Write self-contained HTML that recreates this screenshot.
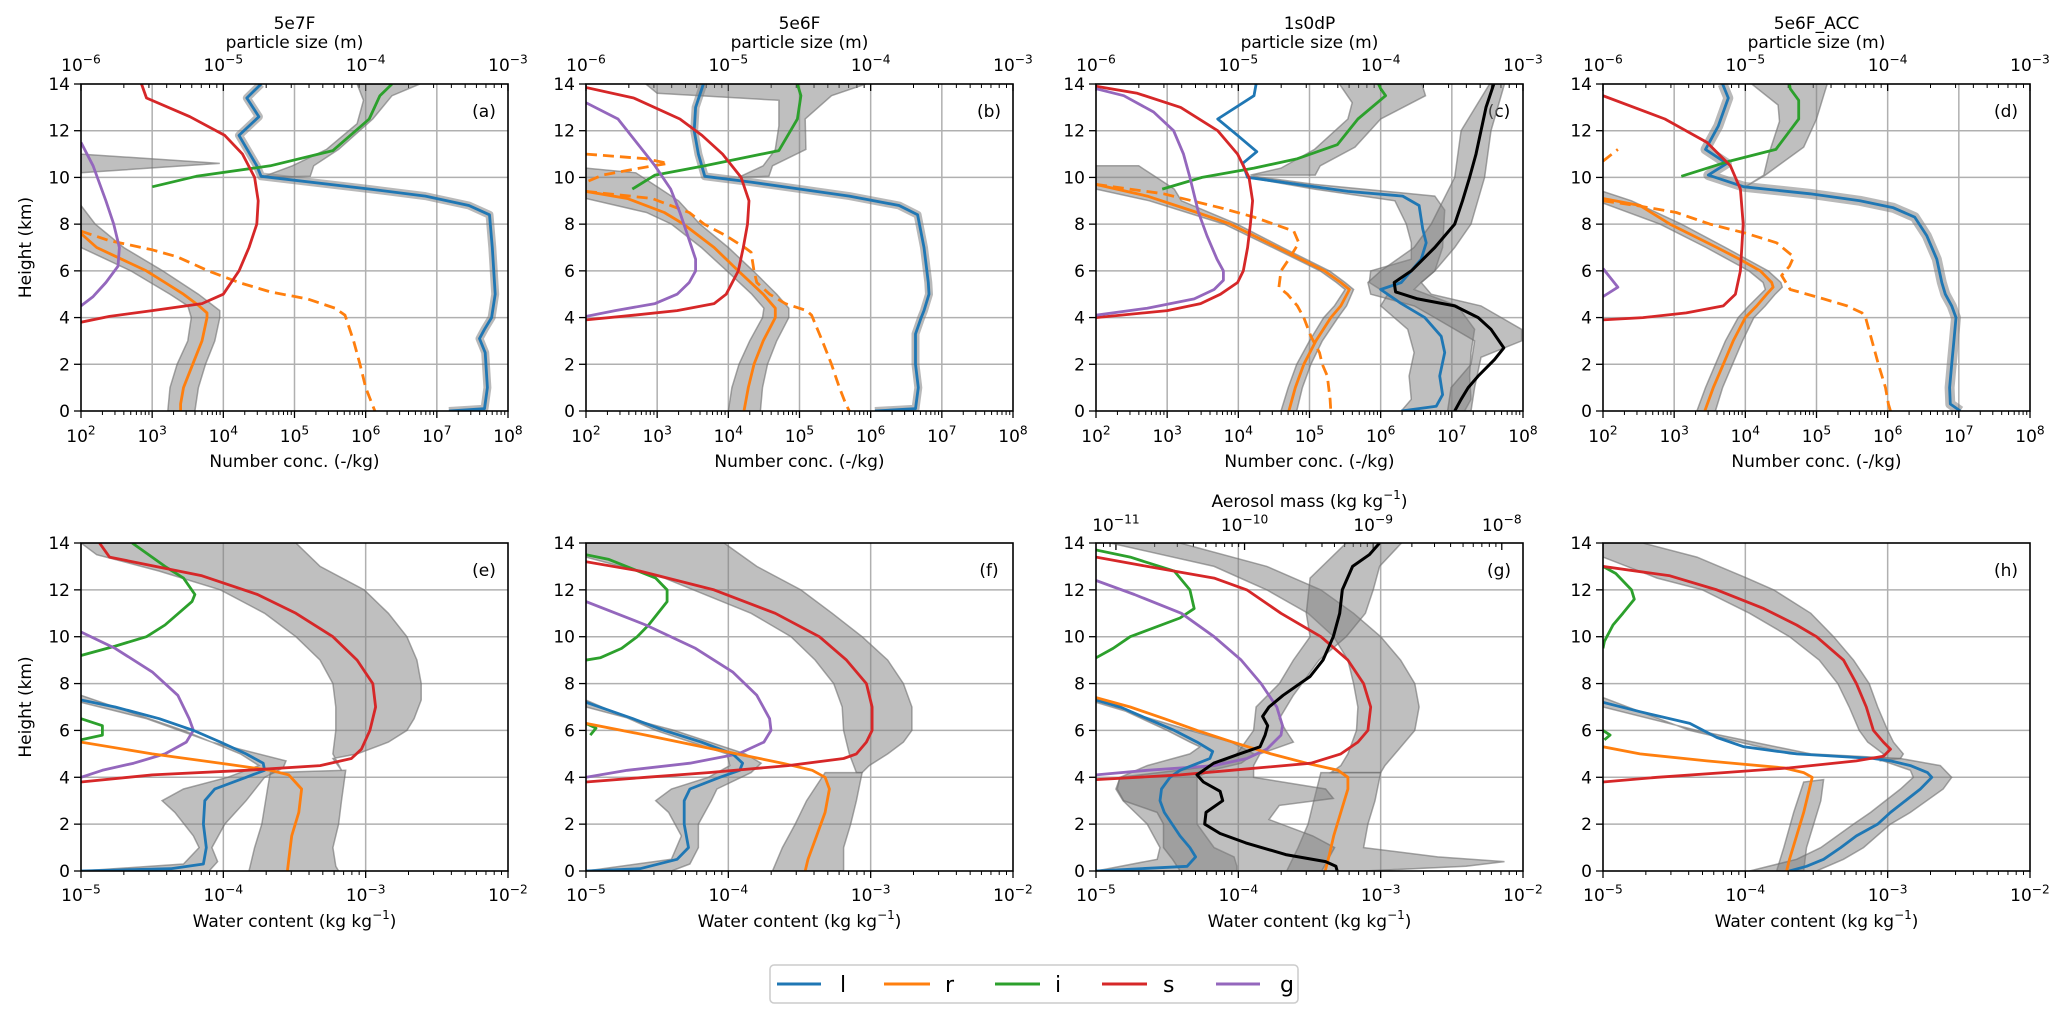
<!DOCTYPE html>
<html><head><meta charset="utf-8"><style>
html,body{margin:0;padding:0;background:#fff;}
svg{display:block;font-family:"DejaVu Sans","Liberation Sans",sans-serif;}
</style></head><body>
<svg id="chart" width="2067" height="1022" viewBox="0 0 2067 1022" xmlns="http://www.w3.org/2000/svg">
<rect x="0" y="0" width="2067" height="1022" fill="#fff"/>
<g id="legend">
<rect x="770" y="965" width="528" height="38" rx="4" fill="#fff" stroke="#cccccc" stroke-width="1.5"/>
<g><line x1="777" y1="984" x2="821" y2="984" stroke="#1f77b4" stroke-width="3"/><text x="840" y="992" font-size="22">l</text></g>
<g><line x1="884" y1="984" x2="930" y2="984" stroke="#ff7f0e" stroke-width="3"/><text x="945" y="992" font-size="22">r</text></g>
<g><line x1="995" y1="984" x2="1040" y2="984" stroke="#2ca02c" stroke-width="3"/><text x="1055" y="992" font-size="22">i</text></g>
<g><line x1="1102" y1="984" x2="1147" y2="984" stroke="#d62728" stroke-width="3"/><text x="1163" y="992" font-size="22">s</text></g>
<g><line x1="1216" y1="984" x2="1260" y2="984" stroke="#9467bd" stroke-width="3"/><text x="1280" y="992" font-size="22">g</text></g>
</g>
</svg>
<script>
// ---------- data (log10 values; heights in km) ----------
// panel a
const a_l_h=[14,13.4,12.6,11.8,10.5,10.05,9.5,9.2,8.8,8.4,7,5,4,3.5,3.1,2.5,1,0.1,0];
const a_l_v=[4.53,4.33,4.5,4.22,4.47,4.53,6.06,6.84,7.45,7.74,7.78,7.82,7.77,7.67,7.6,7.68,7.71,7.67,7.17];
const a_i_h=[9.6,10.05,10.5,11.15,12.5,13.5,14];
const a_i_v=[3.0,3.62,4.66,5.54,6.05,6.2,6.37];
const a_ib_lo_h=[10,10.5,11.2,12.3,13.3,14];
const a_ib_lo_v=[4.53,4.97,5.45,5.88,5.97,5.88];
const a_ib_hi_h=[10.05,10.5,11.2,12.5,13.5,14];
const a_ib_hi_v=[5.22,5.27,5.62,6.1,6.37,6.76];
const a_s_h=[14,13.4,12.6,11.8,11,10,9,8,7,6,5,4.6,4.3,4.05,3.8];
const a_s_v=[2.85,2.92,3.53,4.02,4.27,4.44,4.49,4.47,4.36,4.22,4.0,3.7,3.0,2.4,2.0];
const a_g_h=[11.5,10.5,9,8,7,6.2,5.5,4.9,4.5];
const a_g_v=[2.0,2.17,2.35,2.46,2.54,2.52,2.35,2.17,2.0];
const a_r_h=[7.6,7,6.5,6,5.5,5,4.5,4.2,4,3,2,1,0.3,0];
const a_r_v=[2.0,2.22,2.57,2.92,3.18,3.44,3.66,3.77,3.77,3.7,3.57,3.44,3.4,3.4];
const a_rb_lo_h=[7.0,6,5,4.5,4,3,2,1,0];
const a_rb_lo_v=[2.0,2.7,3.25,3.5,3.55,3.5,3.35,3.25,3.22];
const a_rb_hi_h=[8.8,8,7,6,5,4.3,4,3,2,1,0];
const a_rb_hi_v=[2.0,2.2,2.6,3.15,3.65,3.95,3.95,3.88,3.75,3.65,3.6];
const a_rd_h=[7.7,7.3,6.9,6.6,6,5.5,5.1,4.8,4.4,4.1,3,2,1,0.3,0];
const a_rd_v=[2.0,2.39,3.0,3.35,3.79,4.22,4.66,5.18,5.57,5.71,5.83,5.92,6.0,6.09,6.13];
const a_sp_lo_h=[10.2,10.6];
const a_sp_lo_v=[2.0,3.95];
const a_sp_hi_h=[11.0];
const a_sp_hi_v=[2.0];
// panel b
const b_l_h=[14,13,12,11,10.05,9.8,9.5,9.2,8.8,8.4,7,5.5,5,4.3,4,3.3,2,1,0.1,0];
const b_l_v=[3.65,3.54,3.52,3.58,3.67,4.32,5.01,5.7,6.4,6.66,6.75,6.81,6.82,6.75,6.71,6.63,6.63,6.67,6.63,6.06];
const b_i_h=[9.5,10.1,10.5,11.15,12.5,13.5,14];
const b_i_v=[2.65,2.97,3.67,4.71,4.97,5.02,4.97];
const b_ib_lo_h=[10,10.5,11.2,12.2,13.3,13.6,14];
const b_ib_lo_v=[4.14,4.49,4.66,4.71,4.71,3.0,2.84];
const b_ib_hi_h=[10.05,10.5,11.2,12.5,13.5,14];
const b_ib_hi_v=[4.57,4.62,5.09,5.08,5.45,5.93];
const b_s_h=[13.85,13.4,12.5,11.8,11,10,9,8,7,6,5,4.6,4.3,4.1,3.9];
const b_s_v=[2.0,2.67,3.32,3.63,3.92,4.18,4.29,4.27,4.21,4.14,3.97,3.8,3.28,2.67,2.0];
const b_g_h=[13.2,12.5,11.5,10.5,9.5,8.5,7.5,6.5,6,5.5,5,4.6,4.3,4.05];
const b_g_v=[2.0,2.45,2.71,2.97,3.19,3.32,3.43,3.54,3.54,3.45,3.28,2.97,2.41,2.0];
const b_r_h=[9.4,9.1,8.5,8,7,6,5,4.4,4,3,2,1,0];
const b_r_v=[2.0,2.58,3.1,3.37,3.8,4.14,4.49,4.66,4.66,4.49,4.36,4.28,4.22];
const b_rb_lo_h=[9.1,8.5,8,7,6,5,4.4,4,3,2,1,0];
const b_rb_lo_v=[2.0,2.85,3.2,3.62,3.98,4.33,4.5,4.48,4.3,4.15,4.05,4.0];
const b_rb_hi_h=[10.4,10.2,9.6,9,8,7,6,5,4.4,4,3,2,1,0];
const b_rb_hi_v=[2.0,2.7,3.0,3.3,3.6,4.0,4.35,4.68,4.85,4.85,4.68,4.55,4.48,4.45];
const b_rd_h=[9.4,9.1,8.5,8,7.5,7,6.8,6,5.5,5,4.6,4.3,4.1,3,2,1,0.3,0];
const b_rd_v=[2.0,2.93,3.45,3.66,3.97,4.23,4.32,4.36,4.4,4.58,4.8,5.1,5.17,5.32,5.45,5.56,5.65,5.7];
const b_rd2_h=[11,10.8,10.6,10.4,10.1,9.8];
const b_rd2_v=[2.0,2.84,3.15,2.76,2.23,2.0];
// panel c
const c_l_h=[14,13.5,12.5,11.8,11.1,10.6,10,9.4,9.2,8.8,7.8,7.2,6.5,5.5,5.2,4.6,4,3.2,2.5,1.5,0.7,0.2,0];
const c_l_v=[4.25,4.22,3.71,3.99,4.26,4.06,4.13,5.54,6.31,6.54,6.59,6.64,6.57,6.29,6.0,6.29,6.62,6.85,6.9,6.83,6.87,6.78,6.29];
const c_lb_lo_h=[10,9.5,9,8,7.2,6.5,6,5.5,5,4.5,3.5,2.5,1.5,0.5,0];
const c_lb_lo_v=[4.13,5.07,6.2,6.36,6.43,6.43,5.86,5.84,6.1,6.0,6.38,6.47,6.4,6.43,6.29];
const c_lb_hi_h=[10.05,9.7,9.2,8.6,7,6,5.5,5.2,4.5,3.5,2.5,1.5,0.5,0];
const c_lb_hi_v=[4.22,5.07,6.76,6.9,6.87,6.76,6.57,6.47,7.08,7.32,7.27,7.25,7.27,7.18];
const c_k_h=[14,13,12,11,10,9,8,7,6,5.5,5.1,4.8,4.5,4,3.5,2.7,2.2,1.5,1,0.5,0];
const c_k_v=[7.59,7.48,7.41,7.34,7.25,7.15,7.04,6.76,6.43,6.19,6.21,6.52,7.04,7.37,7.55,7.73,7.6,7.37,7.23,7.13,7.04];
const c_kb_lo_h=[14,12,10,8,7,6,5.5,5,4.5,4,3,2,1,0];
const c_kb_lo_v=[7.53,7.13,7.04,6.71,6.47,6.0,5.82,5.86,6.47,6.76,7.32,7.27,6.99,6.94];
const c_kb_hi_h=[14,12,10,8,7,6,5.5,5,4.5,3.5,3,2.3,1,0];
const c_kb_hi_v=[7.74,7.55,7.46,7.27,7.04,6.76,6.57,6.71,7.41,7.98,7.98,7.41,7.32,7.27];
const c_i_h=[9.5,10,10.4,10.8,11.4,12.5,13.5,13.8,14];
const c_i_v=[2.93,3.49,4.22,4.83,5.39,5.68,6.07,6.0,5.97];
const c_ib_lo_h=[10.1,10.4,11.2,12.5,13.2,14];
const c_ib_lo_v=[4.17,4.6,5.07,5.54,5.6,5.42];
const c_ib_hi_h=[10.1,10.5,11.3,12.5,13.5,14];
const c_ib_hi_v=[5.08,5.15,5.64,6.0,6.63,6.58];
const c_s_h=[13.9,13.6,13,12,11,10,9,8,7,6,5.5,5,4.6,4.3,4];
const c_s_v=[2.0,2.58,3.19,3.71,3.99,4.15,4.2,4.17,4.13,4.07,3.99,3.75,3.47,3.0,2.0];
const c_g_h=[13.8,13.5,12.8,12,11,10,8.5,7.5,6.5,6,5.6,5.2,4.8,4.4,4.1];
const c_g_v=[2.0,2.39,2.81,3.09,3.23,3.32,3.44,3.56,3.7,3.79,3.79,3.66,3.38,2.72,2.0];
const c_r_h=[9.7,9.2,8.5,8,7,6.5,6,5.5,5.2,4.5,4,3,2,1,0];
const c_r_v=[2.0,2.72,3.42,3.89,4.55,4.88,5.21,5.44,5.56,5.44,5.3,5.09,4.92,4.8,4.71];
const c_rb_lo_h=[9.5,9,8,7,6,5.5,5.2,4.5,4,3,2,1,0];
const c_rb_lo_v=[2.0,2.75,3.8,4.48,5.15,5.38,5.5,5.35,5.2,5.0,4.82,4.7,4.6];
const c_rb_hi_h=[10.5,10.5,10.0,9.5,9,8,7,6,5.5,5.2,4.5,4,3,2,1,0];
const c_rb_hi_v=[2.0,2.6,2.85,3.1,3.2,3.98,4.62,5.28,5.5,5.62,5.52,5.4,5.18,5.02,4.9,4.82];
const c_rd_h=[9.7,9.3,8.7,8.3,8,7.7,7.2,6.5,6,5.3,5,4.5,4,3.2,2.5,2,1.5,0.5,0];
const c_rd_v=[2.0,2.95,3.75,4.22,4.5,4.78,4.85,4.71,4.6,4.57,4.69,4.83,4.92,5.02,5.14,5.18,5.25,5.29,5.3];
// panel d
const d_l_h=[14,13.4,12.2,11.2,10.6,10.1,9.6,9.3,9.0,8.7,8.3,7.5,6.5,5.5,5,4.5,4,3,2,1,0.3,0];
const d_l_v=[3.68,3.76,3.62,3.44,3.74,3.48,3.98,4.91,5.61,6.08,6.38,6.55,6.69,6.76,6.81,6.9,6.96,6.93,6.9,6.87,6.88,7.02];
const d_i_h=[10.05,10.7,11.2,12.5,13.3,13.8,14];
const d_i_v=[3.1,3.78,4.43,4.75,4.75,4.63,4.62];
const d_ib_lo_h=[9.6,10.1,11,12.4,13.1,14];
const d_ib_lo_v=[4.0,4.26,4.33,4.48,4.46,4.09];
const d_ib_hi_h=[9.6,10.1,11.3,12.5,13.5,14];
const d_ib_hi_v=[4.0,4.28,4.82,5.0,5.1,5.15];
const d_s_h=[13.5,12.5,11.5,10.5,9.5,8,6,5,4.5,4.2,4,3.9];
const d_s_v=[2.0,2.87,3.46,3.79,3.93,3.97,3.93,3.86,3.69,3.17,2.56,2.0];
const d_g_h=[6.1,5.3,4.9];
const d_g_v=[2.0,2.21,2.0];
const d_r_h=[9.1,8.8,8,7,6.5,6,5.5,5.3,5,4.5,4,3,2,1,0];
const d_r_v=[2.0,2.52,2.94,3.6,3.92,4.21,4.37,4.39,4.3,4.16,4.0,3.83,3.69,3.55,3.43];
const d_rb_lo_h=[8.9,8,7,6,5.5,5.2,4.5,4,3,2,1,0];
const d_rb_lo_v=[2.0,2.8,3.45,4.05,4.25,4.28,4.05,3.9,3.72,3.58,3.44,3.32];
const d_rb_hi_h=[9.4,9,8,7,6,5.5,5.3,5,4.5,4,3,2,1,0];
const d_rb_hi_v=[2.0,2.4,3.1,3.72,4.32,4.5,4.52,4.42,4.28,4.12,3.96,3.82,3.68,3.58];
const d_rd_h=[9.0,8.8,8.5,8,7.6,7.2,6.6,6.2,5.8,5.2,4.8,4.5,4.2,4,3,2,1,0.3,0];
const d_rd_v=[2.0,2.47,3.03,3.5,4.02,4.44,4.68,4.62,4.51,4.63,5.1,5.43,5.64,5.69,5.78,5.87,5.97,6.01,6.04];
const d_rd2_h=[10.7,11.2];
const d_rd2_v=[2.0,2.21];
// panel e
const e_s_h=[14,13.4,12.6,11.8,11,10,9,8,7,6,5.2,4.8,4.5,4.3,4.1,3.8];
const e_s_v=[-4.87,-4.8,-4.15,-3.76,-3.49,-3.23,-3.06,-2.95,-2.93,-2.97,-3.03,-3.1,-3.32,-3.84,-4.5,-5];
const e_sb_lo_h=[14,13.5,12.8,12,11,10,9,8,7,6,5,4.3];
const e_sb_lo_v=[-5,-4.89,-4.45,-4.02,-3.71,-3.49,-3.32,-3.23,-3.21,-3.21,-3.23,-3.17];
const e_sb_hi_h=[14,13,12,11,10,9,8,7.3,6.5,6,5.5,5,4.8,4.3];
const e_sb_hi_v=[-3.49,-3.32,-3.01,-2.84,-2.71,-2.64,-2.61,-2.61,-2.66,-2.71,-2.84,-3.06,-3.23,-3.17];
const e_r_h=[5.5,5,4.6,4.3,4.1,3.5,2.5,1.5,0.5,0];
const e_r_v=[-5,-4.5,-4.02,-3.67,-3.54,-3.45,-3.47,-3.52,-3.54,-3.55];
const e_rb_lo_h=[4.2,3.5,2,1,0];
const e_rb_lo_v=[-3.67,-3.69,-3.73,-3.78,-3.82];
const e_rb_hi_h=[4.3,3,2,1,0.2,0];
const e_rb_hi_v=[-3.14,-3.17,-3.19,-3.23,-3.21,-3.19];
const e_l_h=[7.3,7,6.5,6,5.5,5,4.6,4.3,4,3.5,3,2,1,0.3,0.1,0];
const e_l_v=[-5,-4.76,-4.45,-4.21,-4.02,-3.84,-3.72,-3.71,-3.84,-4.06,-4.13,-4.14,-4.12,-4.14,-4.37,-5];
const e_lb_lo_h=[7.5,6,5,4.5,4,3.5,3,2.5,1.5,1,0.3,0];
const e_lb_lo_v=[-5,-4.28,-3.88,-3.75,-3.97,-4.28,-4.43,-4.34,-4.21,-4.17,-4.28,-5];
const e_lb_hi_h=[7.2,6.5,5.5,4.7,4.4,4,3,2,1,0.4,0];
const e_lb_hi_v=[-5,-4.54,-4.08,-3.56,-3.58,-3.71,-3.84,-3.99,-4.08,-4.04,-4.1];
const e_i_h=[14,13,12.5,11.8,11.5,10.5,10,9.6,9.2];
const e_i_v=[-4.64,-4.41,-4.28,-4.2,-4.22,-4.41,-4.54,-4.76,-5];
const e_i2_h=[6.5,6.2,5.8,5.6];
const e_i2_v=[-5,-4.85,-4.85,-5];
const e_g_h=[10.2,9.5,8.5,7.5,6.5,6,5.5,5,4.6,4.3,4.0];
const e_g_v=[-5,-4.76,-4.5,-4.32,-4.24,-4.21,-4.26,-4.41,-4.63,-4.85,-5];
// panel f
const f_s_h=[13.2,12.8,12,11,10,9,8,7,6,5.5,5,4.8,4.5,4.2,4,3.8];
const f_s_v=[-5,-4.62,-4.1,-3.67,-3.36,-3.17,-3.03,-2.99,-2.99,-3.03,-3.1,-3.19,-3.58,-4.14,-4.58,-5];
const f_sb_lo_h=[14,13.4,12.5,11,10,9,8,7,6,5,4.2];
const f_sb_lo_v=[-5,-5,-4.45,-3.84,-3.56,-3.39,-3.26,-3.2,-3.19,-3.15,-3.1];
const f_sb_hi_h=[14,13,12,11,10,9,8,7,6,5.5,5,4.5,4.2];
const f_sb_hi_v=[-4.03,-3.8,-3.49,-3.27,-3.06,-2.88,-2.77,-2.71,-2.71,-2.77,-2.88,-3.01,-3.06];
const f_r_h=[6.3,5.8,5.2,4.6,4.3,4.0,3.5,2.5,1.5,0.5,0];
const f_r_v=[-5,-4.58,-4.1,-3.62,-3.41,-3.32,-3.29,-3.32,-3.38,-3.44,-3.46];
const f_rb_lo_h=[4.2,3,2,1,0];
const f_rb_lo_v=[-3.32,-3.45,-3.53,-3.62,-3.69];
const f_rb_hi_h=[4.2,3,2,1,0];
const f_rb_hi_v=[-3.06,-3.1,-3.14,-3.19,-3.19];
const f_l_h=[7.2,6.5,6,5.5,5,4.6,4.3,4,3.5,3,2,1,0.5,0.1,0];
const f_l_v=[-5,-4.67,-4.45,-4.19,-3.97,-3.9,-3.92,-4.06,-4.27,-4.31,-4.31,-4.28,-4.36,-4.62,-5];
const f_lb_lo_h=[7.3,6,5,4.5,4,3.5,3,2.5,1.5,0.5,0];
const f_lb_lo_v=[-5,-4.51,-4.01,-3.99,-4.14,-4.4,-4.51,-4.42,-4.33,-4.4,-5];
const f_lb_hi_h=[7.0,6,5,4.6,4.2,3.5,3,2,1,0.3,0];
const f_lb_hi_v=[-5,-4.38,-3.88,-3.77,-3.84,-4.08,-4.12,-4.21,-4.21,-4.27,-4.4];
const f_i_h=[13.5,13.3,12.5,12,11.5,10.5,10,9.5,9.1,9.0];
const f_i_v=[-5,-4.84,-4.51,-4.43,-4.43,-4.56,-4.64,-4.75,-4.9,-5];
const f_i2_h=[6.3,6.1,5.8];
const f_i2_v=[-5,-4.93,-4.97];
const f_g_h=[11.5,10.5,9.5,8.5,7.5,6.5,6,5.5,5,4.6,4.3,4.0];
const f_g_v=[-5,-4.58,-4.23,-3.97,-3.8,-3.71,-3.7,-3.75,-3.93,-4.27,-4.71,-5];
// panel g
const g_s_h=[13.4,13,12.5,12,11,10,9,8,7,6,5.5,5,4.6,4.3,4.1,3.9];
const g_s_v=[-5,-4.64,-4.17,-3.94,-3.7,-3.42,-3.23,-3.12,-3.07,-3.09,-3.16,-3.28,-3.49,-4.05,-4.41,-5];
const g_sb_lo_h=[14,13,12,11,10,9,8,7,6,5,4.5,4.2];
const g_sb_lo_v=[-4.9,-4.17,-3.8,-3.51,-3.33,-3.23,-3.19,-3.16,-3.17,-3.23,-3.28,-3.35];
const g_sb_hi_h=[14,13,12,11,10,9,8,7,6,5,4.5,4.2];
const g_sb_hi_v=[-4.41,-3.8,-3.42,-3.19,-3.0,-2.86,-2.76,-2.73,-2.76,-2.9,-2.97,-3.0];
const g_r_h=[7.4,7,6.5,6,5.5,5,4.6,4.3,4.0,3.5,2.5,1.5,0.7,0];
const g_r_v=[-5,-4.76,-4.52,-4.29,-4.04,-3.77,-3.52,-3.3,-3.23,-3.23,-3.28,-3.33,-3.36,-3.39];
const g_rb_lo_h=[4.2,3,2,1,0];
const g_rb_lo_v=[-3.42,-3.47,-3.51,-3.58,-3.66];
const g_rb_hi_h=[4.2,3,2,1,0.6,0.4,0.2,0];
const g_rb_hi_v=[-3.0,-3.04,-3.09,-3.12,-2.6,-2.13,-2.4,-3.12];
const g_l_h=[7.3,7,6.5,6,5.5,5.1,4.8,4.3,4,3.5,3,2.5,1.5,1,0.6,0.2,0];
const g_l_v=[-5,-4.83,-4.64,-4.45,-4.29,-4.18,-4.2,-4.41,-4.48,-4.54,-4.55,-4.52,-4.41,-4.34,-4.3,-4.36,-5];
const g_lb_lo_h=[7.4,6,5.5,5.3,5,4.5,4,3.5,3,2,1,0.5,0];
const g_lb_lo_v=[-5,-4.5,-4.34,-4.27,-4.34,-4.64,-4.83,-4.86,-4.81,-4.64,-4.55,-4.57,-5];
const g_lb_hi_h=[7.2,6,5.5,5,4.6,4.3,4,3,2,1,0.6,0.2,0];
const g_lb_hi_v=[-5,-4.34,-4.05,-3.89,-3.98,-4.19,-4.29,-4.29,-4.29,-4.17,-4.03,-4.01,-4.01];
const g_i_h=[13.7,13.4,12.8,12,11.2,10.8,10,9.5,9.1];
const g_i_v=[-5,-4.76,-4.45,-4.34,-4.31,-4.41,-4.76,-4.88,-5];
const g_g_h=[12.4,11.8,11,10,9,8,7,6.2,5.8,5.2,4.8,4.5,4.3,4.1];
const g_g_v=[-5,-4.73,-4.4,-4.17,-3.98,-3.84,-3.73,-3.69,-3.7,-3.8,-3.94,-4.17,-4.64,-5];
const g_k_h=[14,13.5,13,12,11,10,9,8.3,7.5,7,6.6,6.2,5.8,5.3,5,4.6,4.1,3.8,3.4,3.0,2.5,2,1.6,1.2,0.7,0.4,0.2,0];
const g_k_v=[-8.95,-9.03,-9.16,-9.24,-9.26,-9.31,-9.39,-9.49,-9.7,-9.81,-9.86,-9.82,-9.84,-9.88,-10.04,-10.24,-10.37,-10.32,-10.19,-10.17,-10.3,-10.31,-10.19,-9.99,-9.68,-9.37,-9.29,-9.28];
const g_kb_lo_h=[14,12.5,11,10,9,8,7,6,5,4.5,4,3.5,3,2.5,2,1,0.5,0];
const g_kb_lo_v=[-9.21,-9.49,-9.52,-9.49,-9.62,-9.73,-9.91,-9.93,-10.06,-10.22,-10.97,-10.99,-10.94,-10.68,-10.63,-10.63,-10.56,-10.5];
const g_kb_hi_h=[14,13,12,11,10,9,7.5,6.5,6,5.5,5,4.5,4,3.5,3.1,2.8,2.2,1.5,1,0.5,0];
const g_kb_hi_v=[-8.78,-8.95,-9.0,-9.06,-9.21,-9.42,-9.62,-9.73,-9.68,-9.62,-9.88,-9.93,-9.93,-9.37,-9.31,-9.73,-9.81,-9.47,-9.3,-9.35,-9.4];
// panel h
const h_s_h=[13.0,12.6,12,11.2,10.5,10,9,8,7,6,5.5,5.2,4.9,4.7,4.4,4.2,4.0,3.8];
const h_s_v=[-5,-4.53,-4.2,-3.87,-3.64,-3.5,-3.31,-3.22,-3.15,-3.1,-3.03,-2.98,-3.03,-3.22,-3.69,-4.15,-4.62,-5];
const h_sb_lo_h=[14,13.4,12.5,12,11,10,9,8,7,6,5.5,5,4.7];
const h_sb_lo_v=[-5,-5,-4.62,-4.3,-3.97,-3.69,-3.48,-3.35,-3.27,-3.2,-3.14,-3.03,-3.05];
const h_sb_hi_h=[14,13.4,12.5,12,11,10,9,8,7,6,5.5,5,4.8];
const h_sb_hi_v=[-4.72,-4.34,-3.99,-3.8,-3.54,-3.38,-3.24,-3.13,-3.07,-3.0,-2.96,-2.89,-2.91];
const h_l_h=[7.2,6.8,6.3,5.7,5.3,5.0,4.8,4.7,4.5,4.2,4.0,3.5,2.5,2.0,1.5,1.0,0.5,0.2,0];
const h_l_v=[-5,-4.74,-4.39,-4.2,-4.01,-3.64,-3.1,-2.98,-2.84,-2.72,-2.69,-2.77,-2.98,-3.07,-3.22,-3.33,-3.45,-3.57,-3.69];
const h_lb_lo_h=[7.4,6,5,4.8,4.3,4,3.5,2.5,2,1,0.5,0];
const h_lb_lo_v=[-5,-4.39,-3.69,-3.08,-2.84,-2.82,-2.91,-3.12,-3.24,-3.47,-3.64,-3.97];
const h_lb_hi_h=[7.0,6,5,4.8,4.5,4,3.5,2.5,2,1,0.5,0];
const h_lb_hi_v=[-5,-4.34,-3.54,-2.91,-2.63,-2.55,-2.61,-2.84,-2.98,-3.17,-3.31,-3.5];
const h_r_h=[5.3,5.0,4.7,4.4,4.2,4.0,3.5,2.5,1.5,0.5,0];
const h_r_v=[-5,-4.74,-4.27,-3.73,-3.59,-3.53,-3.55,-3.59,-3.64,-3.69,-3.71];
const h_rb_lo_h=[3.8,2.5,1,0];
const h_rb_lo_v=[-3.59,-3.66,-3.73,-3.78];
const h_rb_hi_h=[3.9,3,2,1,0];
const h_rb_hi_v=[-3.45,-3.47,-3.52,-3.57,-3.59];
const h_i_h=[13.0,12.7,12.0,11.6,11,10.5,9.8,9.5];
const h_i_v=[-5,-4.91,-4.8,-4.78,-4.86,-4.93,-4.99,-5];
const h_i2_h=[6.0,5.8,5.6];
const h_i2_v=[-5,-4.95,-4.99];

const titles=['5e7F','5e6F','1s0dP','5e6F_ACC'];
const yTicks=[0,2,4,6,8,10,12,14];

// ---------- drawing ----------
const NS='http://www.w3.org/2000/svg';
const svg=document.getElementById('chart');
const legend=document.getElementById('legend');
function mk(tag,attrs,parent){const e=document.createElementNS(NS,tag);for(const k in attrs)e.setAttribute(k,attrs[k]);(parent||svg).insertBefore(e,parent?null:legend);return e;}
const COL={l:'#1f77b4',r:'#ff7f0e',i:'#2ca02c',s:'#d62728',g:'#9467bd',k:'#000000'};
const lefts=[81,586,1096,1603];
const W=427;
function pow(t,x,y,exp,size,anchor,parent){
  const t1=mk('text',{x:x,y:y,'font-size':size,'text-anchor':anchor||'middle'},parent);
  t1.appendChild(document.createTextNode('10'));
  const s=document.createElementNS(NS,'tspan');s.setAttribute('dy',-size*0.45);s.setAttribute('font-size',size*0.72);
  s.textContent=exp;t1.appendChild(s);return t1;
}
function expStr(n){return (n<0?'\u2212':'')+Math.abs(n);}

function makePanel(id,col,row){
  const x0=lefts[col],y0=row?543:84,h=row?328:327;
  const xr=row?[-5,-2]:[2,8];
  return {id,x0,y0,w:W,h,xr,
    X:v=>x0+(v-xr[0])/(xr[1]-xr[0])*W,
    Y:k=>y0+(14-k)/14*h};
}
function drawAxes(P,row,col){
  const g=mk('g',{});
  
  
  // gridlines
  for(let d=P.xr[0]+1;d<P.xr[1];d++){
    const ln=mk('line',{x1:P.X(d),x2:P.X(d),y1:P.y0,y2:P.y0+P.h,stroke:'#b0b0b0','stroke-width':1.5},g);
    
    
  }
  for(const k of yTicks){ if(k===0||k===14)continue;
    const ln=mk('line',{x1:P.x0,x2:P.x0+P.w,y1:P.Y(k),y2:P.Y(k),stroke:'#b0b0b0','stroke-width':1.5},g);
    
    
  }
  // y ticks
  for(const k of yTicks){
    mk('line',{x1:P.x0-7,x2:P.x0,y1:P.Y(k),y2:P.Y(k),stroke:'#000','stroke-width':1.3},g);
    const t=mk('text',{x:P.x0-11,y:P.Y(k)+6,'font-size':17,'text-anchor':'end'},g);
    t.textContent=k;
    
    
  }
  // bottom x ticks
  const by=P.y0+P.h;
  for(let d=P.xr[0];d<=P.xr[1];d++){
    mk('line',{x1:P.X(d),x2:P.X(d),y1:by,y2:by+7,stroke:'#000','stroke-width':1.3},g);
    const t=pow(null,P.X(d),row?901:442,expStr(d),17,'middle',g);
    
    
    if(d<P.xr[1]) for(let m=2;m<10;m++){const xm=P.X(d+Math.log10(m));mk('line',{x1:xm,x2:xm,y1:by,y2:by+4,stroke:'#000','stroke-width':1},g);}
  }
  const xl=mk('text',{x:P.x0+P.w/2,y:row?927:467,'font-size':17,'text-anchor':'middle'},g);
  
  
  if(row){xl.appendChild(document.createTextNode('Water content (kg kg'));const s=document.createElementNS(NS,'tspan');s.setAttribute('dy',-8);s.setAttribute('font-size',12);s.textContent='\u22121';xl.appendChild(s);const s2=document.createElementNS(NS,'tspan');s2.setAttribute('dy',8);s2.textContent=')';xl.appendChild(s2);}
  else xl.textContent='Number conc. (-/kg)';
  // top axis
  let tr=null;
  if(!row) tr=[-6,-3];
  if(row&&col===2) tr=[-11.155,-7.835];
  if(tr){
    const TX=v=>P.x0+(v-tr[0])/(tr[1]-tr[0])*P.w;
    for(let d=Math.ceil(tr[0]);d<=Math.floor(tr[1]);d++){
      mk('line',{x1:TX(d),x2:TX(d),y1:P.y0,y2:P.y0+7,stroke:'#000','stroke-width':1.3},g);
      const t=pow(null,TX(d),row?531:71,expStr(d),17,'middle',g);
      
      
    }
    for(let d=Math.floor(tr[0]);d<tr[1];d++) for(let m=2;m<10;m++){const v=d+Math.log10(m);if(v<tr[0]||v>tr[1])continue;mk('line',{x1:TX(v),x2:TX(v),y1:P.y0,y2:P.y0+4,stroke:'#000','stroke-width':1},g);}
    const tl=mk('text',{x:P.x0+P.w/2,y:row?507:48,'font-size':17,'text-anchor':'middle'},g);
    
    
    if(row){tl.appendChild(document.createTextNode('Aerosol mass (kg kg'));const s=document.createElementNS(NS,'tspan');s.setAttribute('dy',-8);s.setAttribute('font-size',12);s.textContent='\u22121';tl.appendChild(s);const s2=document.createElementNS(NS,'tspan');s2.setAttribute('dy',8);s2.textContent=')';tl.appendChild(s2);}
    else tl.textContent='particle size (m)';
    P.TX=TX;
  }
  if(!row){const tt=mk('text',{x:P.x0+P.w/2,y:29,'font-size':17,'text-anchor':'middle'},g);tt.textContent=titles[col];
    
    }
  if(col===0){const yl=mk('text',{x:0,y:0,'font-size':17,'text-anchor':'middle',transform:'translate(31,'+(P.y0+P.h/2)+') rotate(-90)'},g);yl.textContent='Height (km)';
    
    }
  const pl=mk('text',{x:P.x0+P.w-24,y:P.y0+33,'font-size':17,'text-anchor':'middle'},g);pl.textContent='('+P.id+')';
  
  
}
function pts(P,hs,vs,top){const F=top?P.TX:P.X;return hs.map((k,i)=>F(vs[i]).toFixed(1)+','+P.Y(k).toFixed(1)).join(' ');}
function band(P,loH,loV,hiH,hiV,top,name,clip){
  const a=pts(P,loH,loV,top);const b=pts(P,hiH.slice().reverse(),hiV.slice().reverse(),top);
  const e=mk('polygon',{points:a+' '+b,fill:'rgba(128,128,128,0.5)',stroke:'rgba(110,110,110,0.6)','stroke-width':1.5,'clip-path':clip});
  
  
}
function line(P,hs,vs,c,opt,name,clip){
  opt=opt||{};
  if(opt.halo){const hl=mk('polyline',{points:pts(P,hs,vs,opt.top),fill:'none',stroke:'rgba(128,128,128,0.55)','stroke-width':opt.halo,'stroke-linejoin':'round','clip-path':clip});
    
    }
  const e=mk('polyline',{points:pts(P,hs,vs,opt.top),fill:'none',stroke:COL[c],'stroke-width':opt.w||2.8,'stroke-linejoin':'round','clip-path':clip});
  if(opt.dash)e.setAttribute('stroke-dasharray','11,6');
  
  
}
const defs=mk('defs',{});
const ids=['a','b','c','d','e','f','g','h'];
const PP={};
ids.forEach((id,n)=>{
  const row=n>=4?1:0,col=n%4;const P=makePanel(id,col,row);PP[id]=P;
  const cp=mk('clipPath',{id:'cp'+id},defs);mk('rect',{x:P.x0,y:P.y0,width:P.w,height:P.h},cp);
  drawAxes(P,row,col);
});
// panel a
{const P=PP.a,c='url(#cpa)';
band(P,a_sp_lo_h,a_sp_lo_v,a_sp_hi_h,a_sp_hi_v,0,'band-spike-a',c);
band(P,a_ib_lo_h,a_ib_lo_v,a_ib_hi_h,a_ib_hi_v,0,'band-i-a',c);
band(P,a_rb_lo_h,a_rb_lo_v,a_rb_hi_h,a_rb_hi_v,0,'band-r-a',c);
line(P,a_l_h,a_l_v,'l',{halo:8},'line-l-a',c);
line(P,a_r_h,a_r_v,'r',{},'line-r-a',c);
line(P,a_rd_h,a_rd_v,'r',{dash:1},'line-r-dashed-a',c);
line(P,a_i_h,a_i_v,'i',{},'line-i-a',c);
line(P,a_s_h,a_s_v,'s',{},'line-s-a',c);
line(P,a_g_h,a_g_v,'g',{},'line-g-a',c);}
// panel b
{const P=PP.b,c='url(#cpb)';
band(P,b_ib_lo_h,b_ib_lo_v,b_ib_hi_h,b_ib_hi_v,0,'band-i-b',c);
band(P,b_rb_lo_h,b_rb_lo_v,b_rb_hi_h,b_rb_hi_v,0,'band-r-b',c);
line(P,b_l_h,b_l_v,'l',{halo:8},'line-l-b',c);
line(P,b_r_h,b_r_v,'r',{},'line-r-b',c);
line(P,b_rd_h,b_rd_v,'r',{dash:1},'line-r-dashed-b',c);
line(P,b_rd2_h,b_rd2_v,'r',{dash:1},'line-r-dashed2-b',c);
line(P,b_i_h,b_i_v,'i',{},'line-i-b',c);
line(P,b_s_h,b_s_v,'s',{},'line-s-b',c);
line(P,b_g_h,b_g_v,'g',{},'line-g-b',c);}
// panel c
{const P=PP.c,c='url(#cpc)';
band(P,c_ib_lo_h,c_ib_lo_v,c_ib_hi_h,c_ib_hi_v,0,'band-i-c',c);
band(P,c_rb_lo_h,c_rb_lo_v,c_rb_hi_h,c_rb_hi_v,0,'band-r-c',c);
band(P,c_lb_lo_h,c_lb_lo_v,c_lb_hi_h,c_lb_hi_v,0,'band-l-c',c);
band(P,c_kb_lo_h,c_kb_lo_v,c_kb_hi_h,c_kb_hi_v,0,'band-aerosol-c',c);
line(P,c_l_h,c_l_v,'l',{},'line-l-c',c);
line(P,c_r_h,c_r_v,'r',{},'line-r-c',c);
line(P,c_rd_h,c_rd_v,'r',{dash:1},'line-r-dashed-c',c);
line(P,c_i_h,c_i_v,'i',{},'line-i-c',c);
line(P,c_s_h,c_s_v,'s',{},'line-s-c',c);
line(P,c_g_h,c_g_v,'g',{},'line-g-c',c);
line(P,c_k_h,c_k_v,'k',{w:3},'line-aerosol-c',c);}
// panel d
{const P=PP.d,c='url(#cpd)';
band(P,d_ib_lo_h,d_ib_lo_v,d_ib_hi_h,d_ib_hi_v,0,'band-i-d',c);
band(P,d_rb_lo_h,d_rb_lo_v,d_rb_hi_h,d_rb_hi_v,0,'band-r-d',c);
line(P,d_l_h,d_l_v,'l',{halo:10},'line-l-d',c);
line(P,d_r_h,d_r_v,'r',{},'line-r-d',c);
line(P,d_rd_h,d_rd_v,'r',{dash:1},'line-r-dashed-d',c);
line(P,d_rd2_h,d_rd2_v,'r',{dash:1},'line-r-dashed2-d',c);
line(P,d_i_h,d_i_v,'i',{},'line-i-d',c);
line(P,d_s_h,d_s_v,'s',{},'line-s-d',c);
line(P,d_g_h,d_g_v,'g',{},'line-g-d',c);}
// panel e
{const P=PP.e,c='url(#cpe)';
band(P,e_sb_lo_h,e_sb_lo_v,e_sb_hi_h,e_sb_hi_v,0,'band-s-e',c);
band(P,e_rb_lo_h,e_rb_lo_v,e_rb_hi_h,e_rb_hi_v,0,'band-r-e',c);
band(P,e_lb_lo_h,e_lb_lo_v,e_lb_hi_h,e_lb_hi_v,0,'band-l-e',c);
line(P,e_i_h,e_i_v,'i',{},'line-i-e',c);
line(P,e_i2_h,e_i2_v,'i',{},'line-i2-e',c);
line(P,e_g_h,e_g_v,'g',{},'line-g-e',c);
line(P,e_l_h,e_l_v,'l',{},'line-l-e',c);
line(P,e_r_h,e_r_v,'r',{},'line-r-e',c);
line(P,e_s_h,e_s_v,'s',{},'line-s-e',c);}
// panel f
{const P=PP.f,c='url(#cpf)';
band(P,f_sb_lo_h,f_sb_lo_v,f_sb_hi_h,f_sb_hi_v,0,'band-s-f',c);
band(P,f_rb_lo_h,f_rb_lo_v,f_rb_hi_h,f_rb_hi_v,0,'band-r-f',c);
band(P,f_lb_lo_h,f_lb_lo_v,f_lb_hi_h,f_lb_hi_v,0,'band-l-f',c);
line(P,f_i_h,f_i_v,'i',{},'line-i-f',c);
line(P,f_i2_h,f_i2_v,'i',{},'line-i2-f',c);
line(P,f_g_h,f_g_v,'g',{},'line-g-f',c);
line(P,f_l_h,f_l_v,'l',{},'line-l-f',c);
line(P,f_r_h,f_r_v,'r',{},'line-r-f',c);
line(P,f_s_h,f_s_v,'s',{},'line-s-f',c);}
// panel g
{const P=PP.g,c='url(#cpg)';
band(P,g_sb_lo_h,g_sb_lo_v,g_sb_hi_h,g_sb_hi_v,0,'band-s-g',c);
band(P,g_rb_lo_h,g_rb_lo_v,g_rb_hi_h,g_rb_hi_v,0,'band-r-g',c);
band(P,g_lb_lo_h,g_lb_lo_v,g_lb_hi_h,g_lb_hi_v,0,'band-l-g',c);
band(P,g_kb_lo_h,g_kb_lo_v,g_kb_hi_h,g_kb_hi_v,1,'band-aerosol-g',c);
line(P,g_i_h,g_i_v,'i',{},'line-i-g',c);
line(P,g_g_h,g_g_v,'g',{},'line-g-g',c);
line(P,g_l_h,g_l_v,'l',{},'line-l-g',c);
line(P,g_r_h,g_r_v,'r',{},'line-r-g',c);
line(P,g_s_h,g_s_v,'s',{},'line-s-g',c);
line(P,g_k_h,g_k_v,'k',{w:3,top:1},'line-aerosol-g',c);}
// panel h
{const P=PP.h,c='url(#cph)';
band(P,h_sb_lo_h,h_sb_lo_v,h_sb_hi_h,h_sb_hi_v,0,'band-s-h',c);
band(P,h_rb_lo_h,h_rb_lo_v,h_rb_hi_h,h_rb_hi_v,0,'band-r-h',c);
band(P,h_lb_lo_h,h_lb_lo_v,h_lb_hi_h,h_lb_hi_v,0,'band-l-h',c);
line(P,h_i_h,h_i_v,'i',{},'line-i-h',c);
line(P,h_i2_h,h_i2_v,'i',{},'line-i2-h',c);
line(P,h_l_h,h_l_v,'l',{},'line-l-h',c);
line(P,h_r_h,h_r_v,'r',{},'line-r-h',c);
line(P,h_s_h,h_s_v,'s',{},'line-s-h',c);}
// frames on top
ids.forEach(id=>{const P=PP[id];
  const fr=mk('rect',{x:P.x0,y:P.y0,width:P.w,height:P.h,fill:'none',stroke:'#000','stroke-width':1.6});
  
  
});
</script>
</body></html>
